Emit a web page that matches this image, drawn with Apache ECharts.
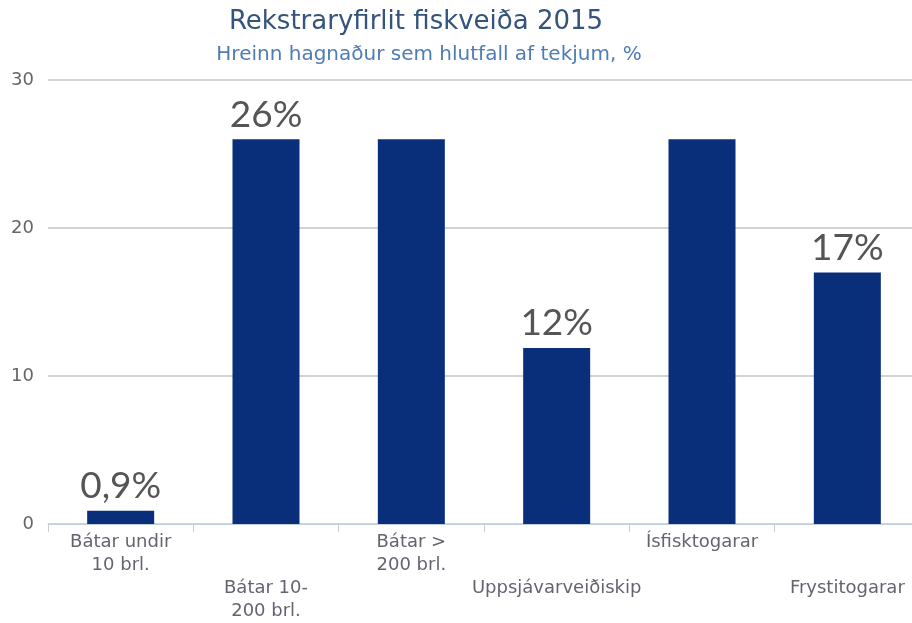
<!DOCTYPE html>
<html><head><meta charset="utf-8">
<script src="https://cdn.jsdelivr.net/npm/echarts@6/dist/echarts.min.js"></script>
<style>html,body{margin:0;padding:0;background:#fff;overflow:hidden}#c{width:930px;height:623px}</style>
</head><body><div id="c"></div>
<script>
const categories = ['Bátar undir\n10 brl.', 'Bátar 10-\n200 brl.', 'Bátar >\n200 brl.', 'Uppsjávarveiðiskip', 'Ísfisktogarar', 'Frystitogarar'];
const values = [0.9, 26, 26, 11.9, 26, 17];
const valueLabels = ['0,9%', '26%', '', '12%', '', '17%'];
const yTicks = [0, 10, 20, 30];

const FF = '"DejaVu Sans", sans-serif';
const chart = echarts.init(document.getElementById('c'));
chart.setOption({
  animation: false,
  title: [
    {text: 'Rekstraryfirlit fiskveiða 2015', left: 411, top: 4, textAlign: 'center',
     textStyle: {fontFamily: FF, fontSize: 26, fontWeight: 'normal', color: '#34547c'}},
    {text: 'Hreinn hagnaður sem hlutfall af tekjum, %', left: 424, top: 40, textAlign: 'center',
     textStyle: {fontFamily: FF, fontSize: 20, fontWeight: 'normal', color: '#4f7cb5'}}
  ],
  grid: {left: 48, width: 872, top: 80, height: 444, containLabel: false},
  xAxis: {
    type: 'category', data: categories,
    axisLine: {lineStyle: {color: '#c0d0e0', width: 1}},
    axisTick: {show: true, alignWithLabel: false, length: 8, lineStyle: {color: '#c8ccd4'}},
    axisLabel: {
      interval: 0, margin: 7, color: '#66636f', fontFamily: FF, fontSize: 18, lineHeight: 23,
      formatter: (v, i) => (i % 2 === 1 ? '\n\n' : '') + v
    }
  },
  yAxis: {
    type: 'value', min: yTicks[0], max: yTicks[yTicks.length - 1], interval: 10,
    axisLine: {show: false}, axisTick: {show: false},
    splitLine: {lineStyle: {color: '#c4c4c4', width: 1.5}},
    axisLabel: {color: '#666', fontFamily: FF, fontSize: 18, margin: 14}
  },
  series: [{
    type: 'bar', barWidth: 67,
    data: values.map((v, i) => ({value: v, label: {show: valueLabels[i] !== '', formatter: valueLabels[i]}})),
    itemStyle: {color: '#0a2f7a'},
    label: {position: 'top', distance: 6, color: '#555', fontFamily: 'Lato', fontSize: 37}
  }]
});
</script></body></html>
